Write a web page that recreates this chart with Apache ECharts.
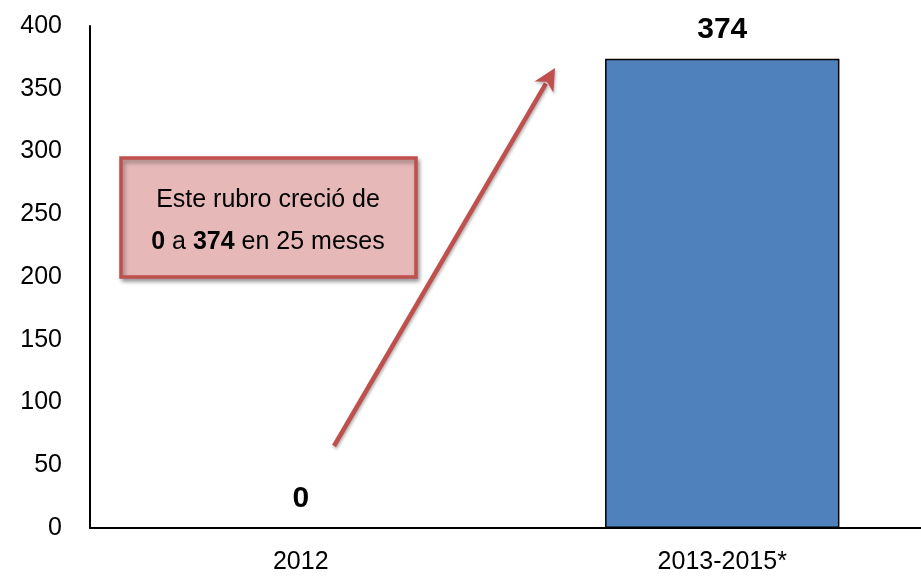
<!DOCTYPE html>
<html><head><meta charset="utf-8">
<script src="https://cdn.jsdelivr.net/npm/echarts@6/dist/echarts.min.js"></script>
<style>html,body{margin:0;padding:0;background:#fff}#c{width:921px;height:580px}</style>
</head><body><div id="c"></div>
<script>
const categories = ['2012', '2013-2015*'];
const values = [0, 374];
const yTicks = [0, 50, 100, 150, 200, 250, 300, 350, 400];
const boxLine1 = 'Este rubro creció de';
const boxLine2 = ['0', ' a ', '374', ' en 25 meses'];

const FONT = '"Liberation Sans", Arial, sans-serif';
const chart = echarts.init(document.getElementById('c'));

function arrowGraphic(x1, y1, x2, y2) {
  const ang = Math.atan2(y2 - y1, x2 - x1);
  const L = 22, W = 11;
  const bx = x2 - L * Math.cos(ang), by = y2 - L * Math.sin(ang);
  const px = -Math.sin(ang), py = Math.cos(ang);
  return [
    { type: 'line', shape: { x1: x1, y1: y1, x2: bx + 4 * Math.cos(ang), y2: by + 4 * Math.sin(ang) },
      style: { stroke: '#c0504d', lineWidth: 4.5, shadowBlur: 3, shadowColor: 'rgba(0,0,0,0.3)', shadowOffsetX: 1, shadowOffsetY: 2 }, z: 10 },
    { type: 'polygon', shape: { points: [[x2, y2], [bx + px * W, by + py * W], [bx + 6 * Math.cos(ang), by + 6 * Math.sin(ang)], [bx - px * W, by - py * W]] },
      style: { fill: '#c0504d', shadowBlur: 3, shadowColor: 'rgba(0,0,0,0.3)', shadowOffsetX: 1, shadowOffsetY: 2 }, z: 10 }
  ];
}

chart.setOption({
  animation: false,
  grid: { left: 90, right: -12, top: 26, bottom: 52, outerBoundsMode: 'none', containLabel: false },
  xAxis: {
    type: 'category', data: categories,
    axisLine: { lineStyle: { color: '#000', width: 2 } },
    axisTick: { show: false },
    axisLabel: { color: '#000', fontSize: 25, fontFamily: FONT, margin: 22 }
  },
  yAxis: {
    type: 'value', min: yTicks[0], max: yTicks[yTicks.length - 1], interval: 50,
    axisLine: { show: true, lineStyle: { color: '#000', width: 2 } },
    axisTick: { show: false },
    splitLine: { show: false },
    axisLabel: { color: '#000', fontSize: 25, fontFamily: FONT, margin: 28 }
  },
  series: [{
    type: 'bar', data: values, barWidth: '55.6%',
    itemStyle: { color: '#4f81bd', borderColor: '#000', borderWidth: 1.5 },
    label: { show: true, position: 'top', distance: 14, color: '#000', fontSize: 30, fontWeight: 'bold', fontFamily: FONT }
  }],
  graphic: [
    { type: 'rect', shape: { x: 121, y: 158, width: 295, height: 119 },
      style: { fill: '#e6b9b8', stroke: '#c0504d', lineWidth: 3.5, shadowBlur: 4, shadowColor: 'rgba(0,0,0,0.35)', shadowOffsetX: 2, shadowOffsetY: 3 }, z: 5 },
    { type: 'text', x: 268, y: 200, z: 6,
      style: { text: boxLine1, font: '25px ' + FONT, fill: '#000', textAlign: 'center', textVerticalAlign: 'middle' } },
    { type: 'text', x: 268, y: 242, z: 6,
      style: { text: '{b|' + boxLine2[0] + '}{n|' + boxLine2[1] + '}{b|' + boxLine2[2] + '}{n|' + boxLine2[3] + '}',
        textAlign: 'center', textVerticalAlign: 'middle',
        rich: { b: { fontSize: 25, fontWeight: 'bold', fontFamily: FONT, fill: '#000', color: '#000' },
                n: { fontSize: 25, fontFamily: FONT, fill: '#000', color: '#000' } } } }
  ].concat(arrowGraphic(334, 446, 555, 68))
});
</script></body></html>
